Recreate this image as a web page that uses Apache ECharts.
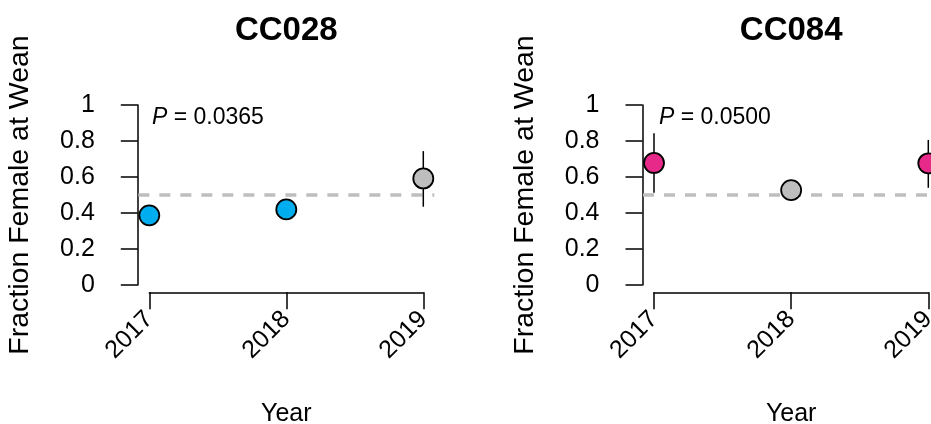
<!DOCTYPE html>
<html>
<head>
<meta charset="utf-8">
<script src="https://cdn.jsdelivr.net/npm/echarts@6/dist/echarts.min.js"></script>
<style>html,body{margin:0;padding:0;background:#fff}#c{width:931px;height:424px}</style>
</head>
<body>
<div id="c"></div>
<script>
// ---- data ----
var years = [2017, 2018, 2019];
var yTicks = [0, 0.2, 0.4, 0.6, 0.8, 1];
var panelTitles = ['CC028', 'CC084'];
var pLabels = ['0.0365', '0.0500'];
var refLine = 0.5;
// CC028
var cc028Mean = [0.387, 0.420, 0.592];
var cc028Lo   = [null, null, 0.435];
var cc028Hi   = [null, null, 0.744];
var cc028Group = ['low', 'low', 'ns'];
// CC084
var cc084Mean = [0.678, 0.527, 0.676];
var cc084Lo   = [0.513, null, 0.540];
var cc084Hi   = [0.843, null, 0.806];
var cc084Group = ['high', 'ns', 'high'];

var groupColor = {low: '#00AEEF', high: '#E7298A', ns: '#BEBEBE'};
var FONT = "'Liberation Sans', Arial, Helvetica, sans-serif";

var chart = echarts.init(document.getElementById('c'));

var grids = [
  {left: 149.3, top: 105, width: 274, height: 180, outerBoundsMode: 'none', containLabel: false},
  {left: 654, top: 105, width: 274.3, height: 180, outerBoundsMode: 'none', containLabel: false}
];

function xAxisFor(i) {
  return {
    type: 'value', gridIndex: i, min: 2017, max: 2019, interval: 1,
    position: 'bottom', offset: 7.3,
    axisLine: {show: true, onZero: false, lineStyle: {color: '#000', width: 1.5}},
    axisTick: {show: true, inside: false, length: 17, lineStyle: {color: '#000', width: 1.5}},
    splitLine: {show: false},
    axisLabel: {rotate: 45, margin: 23, fontSize: 25, color: '#000', fontFamily: FONT,
      formatter: function (v) { return String(v); }},
    name: 'Year', nameLocation: 'middle', nameGap: 109,
    nameTextStyle: {fontSize: 25, color: '#000', fontFamily: FONT}
  };
}
function yAxisFor(i) {
  return {
    type: 'value', gridIndex: i, min: 0, max: 1, interval: 0.2,
    position: 'left', offset: 11.5,
    axisLine: {show: true, onZero: false, lineStyle: {color: '#000', width: 1.5}},
    axisTick: {show: true, inside: false, length: 17, lineStyle: {color: '#000', width: 1.5}},
    splitLine: {show: false},
    axisLabel: {margin: 43, fontSize: 25, color: '#000', fontFamily: FONT,
      formatter: function (v) { return String(Math.round(v * 10) / 10); }},
    name: 'Fraction Female at Wean', nameLocation: 'middle', nameGap: 103,
    nameTextStyle: {fontSize: 28.5, color: '#000', fontFamily: FONT}
  };
}

function pointData(means, groups) {
  return years.map(function (y, k) {
    return {value: [y, means[k]], itemStyle: {color: groupColor[groups[k]]}};
  });
}
function barData(means, lo, hi) {
  var out = [];
  years.forEach(function (y, k) {
    if (lo[k] != null) out.push([y, lo[k], hi[k]]);
  });
  return out;
}

function errSeries(i, data) {
  return {
    type: 'custom', xAxisIndex: i, yAxisIndex: i, clip: false, z: 2,
    data: data,
    renderItem: function (params, api) {
      var p1 = api.coord([api.value(0), api.value(1)]);
      var p2 = api.coord([api.value(0), api.value(2)]);
      return {type: 'line', shape: {x1: p1[0], y1: p1[1], x2: p2[0], y2: p2[1]},
        style: {stroke: '#000', lineWidth: 1.5}};
    }
  };
}
function refSeries(i) {
  return {
    type: 'custom', xAxisIndex: i, yAxisIndex: i, clip: false, z: 1, silent: true,
    data: [[2016.92, 2019.08, refLine]],
    renderItem: function (params, api) {
      var p1 = api.coord([api.value(0), api.value(2)]);
      var p2 = api.coord([api.value(1), api.value(2)]);
      return {type: 'line', shape: {x1: p1[0], y1: p1[1], x2: p2[0], y2: p2[1]},
        style: {stroke: '#BEBEBE', lineWidth: 3.5, lineDash: [11, 10]}};
    }
  };
}
function ptSeries(i, data) {
  return {
    type: 'scatter', xAxisIndex: i, yAxisIndex: i, clip: false, z: 3,
    symbol: 'circle', symbolSize: 20,
    data: data,
    itemStyle: {borderColor: '#000', borderWidth: 1.8, opacity: 1}
  };
}

var titleX = [286.3, 791.2];
var pX = [152, 659];
var graphics = [];
panelTitles.forEach(function (t, i) {
  graphics.push({type: 'text', x: titleX[i], y: 31,
    style: {text: t, font: 'bold 33px ' + FONT, fill: '#000', align: 'center', verticalAlign: 'middle'}});
  graphics.push({type: 'text', x: pX[i], y: 118,
    style: {text: '{i|P} = ' + pLabels[i], fill: '#000', verticalAlign: 'middle',
      font: '23px ' + FONT,
      rich: {i: {fontStyle: 'italic', fontSize: 23, fontFamily: FONT}}}});
});

chart.setOption({
  animation: false,
  backgroundColor: '#fff',
  grid: grids,
  xAxis: [xAxisFor(0), xAxisFor(1)],
  yAxis: [yAxisFor(0), yAxisFor(1)],
  series: [
    refSeries(0), errSeries(0, barData(cc028Mean, cc028Lo, cc028Hi)), ptSeries(0, pointData(cc028Mean, cc028Group)),
    refSeries(1), errSeries(1, barData(cc084Mean, cc084Lo, cc084Hi)), ptSeries(1, pointData(cc084Mean, cc084Group))
  ],
  graphic: graphics
});
</script>
</body>
</html>
